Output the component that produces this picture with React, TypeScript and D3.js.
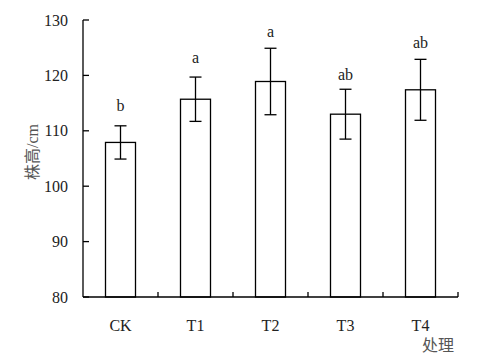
import React from "react";
import * as d3 from "d3";

const categories = ["CK", "T1", "T2", "T3", "T4"];
const means = [107.9, 115.7, 118.9, 113.0, 117.4];
const errors = [3.0, 4.0, 6.0, 4.5, 5.5];
const letters = ["b", "a", "a", "ab", "ab"];
const letterPos = [113.6, 122.2, 127.0, 119.2, 125.0];
const yTicks = [80, 90, 100, 110, 120, 130];

const W = 483;
const H = 357;
const left = 83;
const right = 458;
const top = 20;
const bottom = 297;

export default function App() {
  const x = d3.scaleBand<string>().domain(categories).range([left, right]).paddingInner(0.6).paddingOuter(0.3);
  const y = d3.scaleLinear().domain([80, 130]).range([bottom, top]);
  const bw = x.bandwidth();
  const step = x.step();
  const boundaries = categories.map((_, i) => left + step * (i + 1));
  const font = "Liberation Serif, DejaVu Serif, serif";
  const cjk = "Noto Sans CJK SC, sans-serif";
  const serifStyle = { fontFamily: font };
  return (
    <svg width={W} height={H} style={{ position: "absolute", left: 0, top: 0, background: "#fff" }}>
      <rect x={0} y={0} width={W} height={H} fill="#fff" />
      {categories.map((c, i) => {
        const x0 = x(c)!;
        const cx = x0 + bw / 2;
        return (
          <g key={c}>
            <rect x={x0} y={y(means[i])} width={bw} height={bottom - y(means[i])} fill="#fff" stroke="#000" strokeWidth={1.3} />
            <line x1={cx} x2={cx} y1={y(means[i] + errors[i])} y2={y(means[i] - errors[i])} stroke="#000" strokeWidth={1.3} />
            <line x1={cx - 6} x2={cx + 6} y1={y(means[i] + errors[i])} y2={y(means[i] + errors[i])} stroke="#000" strokeWidth={1.3} />
            <line x1={cx - 6} x2={cx + 6} y1={y(means[i] - errors[i])} y2={y(means[i] - errors[i])} stroke="#000" strokeWidth={1.3} />
            <text x={cx} y={y(letterPos[i])} textAnchor="middle" style={serifStyle} fontSize={16} fill="#222">{letters[i]}</text>
            <text x={cx} y={331} textAnchor="middle" style={serifStyle} fontSize={16} fill="#222">{c}</text>
          </g>
        );
      })}
      <line x1={left} x2={left} y1={top} y2={bottom} stroke="#000" strokeWidth={1.3} />
      <line x1={left} x2={right} y1={bottom} y2={bottom} stroke="#000" strokeWidth={1.3} />
      {yTicks.map((t) => (
        <g key={t}>
          <line x1={left} x2={left + 6} y1={y(t)} y2={y(t)} stroke="#000" strokeWidth={1.3} />
          <text x={68} y={y(t)} dy="0.35em" textAnchor="end" style={serifStyle} fontSize={16} fill="#222">{t}</text>
        </g>
      ))}
      {boundaries.map((b, i) => (
        <line key={i} x1={b} x2={b} y1={bottom} y2={bottom - 5} stroke="#000" strokeWidth={1.3} />
      ))}
      <text transform={`translate(38,152) rotate(-90)`} textAnchor="middle" fontSize={16} fill="#555">
        <tspan style={{ fontFamily: cjk }}>株高</tspan>
        <tspan style={serifStyle}>/cm</tspan>
      </text>
      <text x={438} y={351} textAnchor="middle" style={{ fontFamily: cjk }} fontSize={16} fill="#555">处理</text>
    </svg>
  );
}
